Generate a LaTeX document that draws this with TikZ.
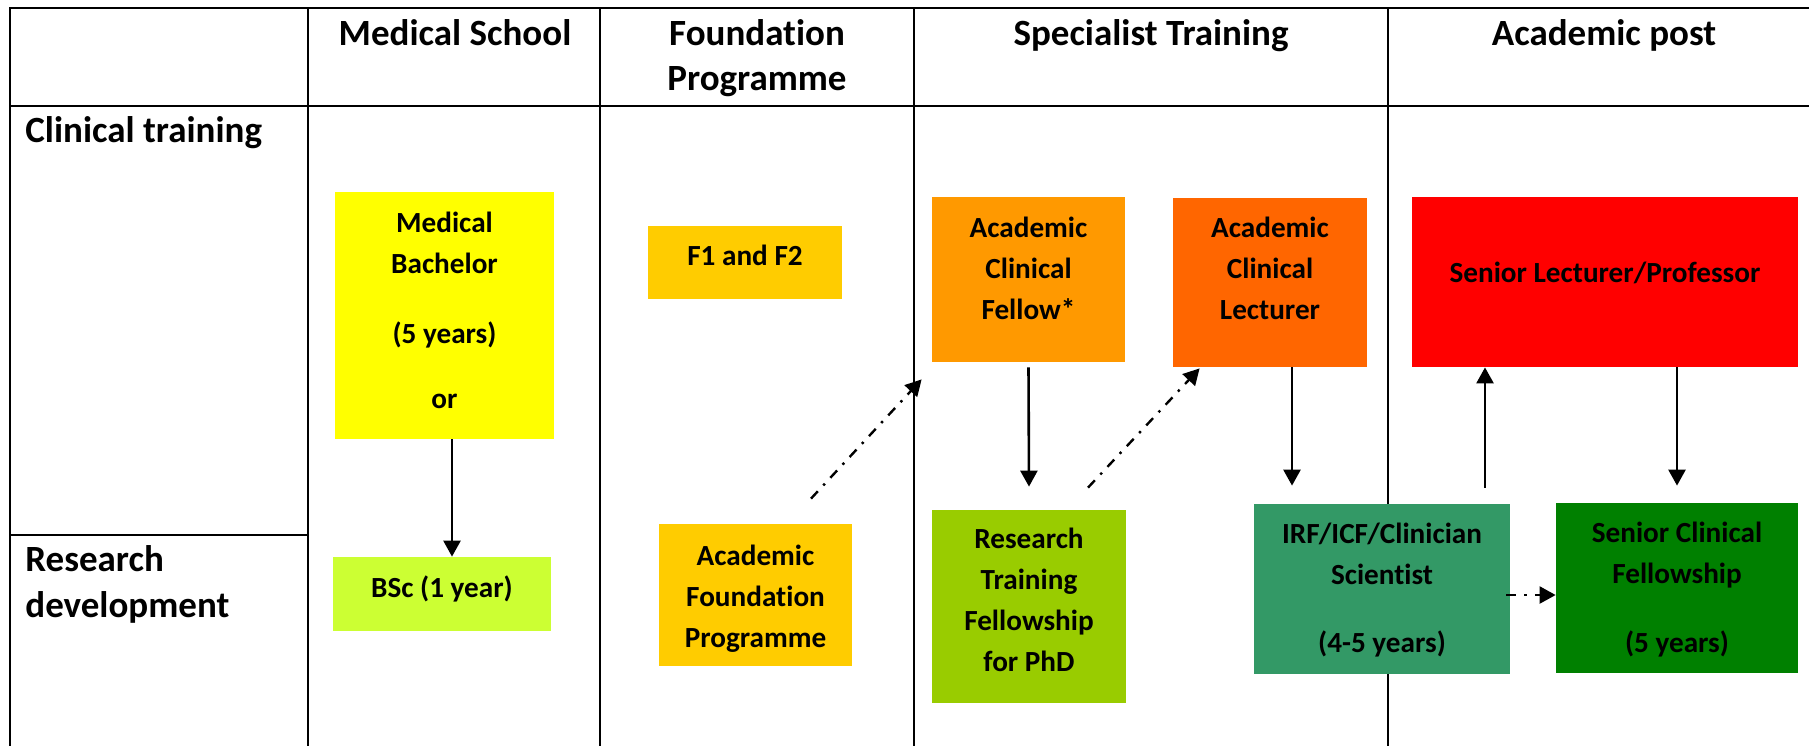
\documentclass[tikz,border=0pt]{standalone}
\usepackage{fontspec}
\setmainfont{Carlito}[Ligatures=NoCommon]
\usetikzlibrary{arrows.meta}
\definecolor{cYellow}{HTML}{FFFF00}
\definecolor{cLime}{HTML}{CCFF33}
\definecolor{cGold}{HTML}{FFCC00}
\definecolor{cOrange}{HTML}{FF9900}
\definecolor{cDarkOrange}{HTML}{FF6600}
\definecolor{cRed}{HTML}{FF0000}
\definecolor{cOlive}{HTML}{99CC00}
\definecolor{cSea}{HTML}{339966}
\definecolor{cGreen}{HTML}{008000}
\begin{document}
\begin{tikzpicture}[x=0.5pt,y=-0.5pt,
  grid/.style={line width=1.1pt},
  box/.style={rectangle, inner sep=0pt, draw=none},
  hdr/.style={font=\bfseries\fontsize{18.5}{22.5}\selectfont, inner sep=0pt},
  btxt/.style={font=\bfseries\fontsize{14.6}{20.5}\selectfont, inner sep=0pt, align=center, anchor=north},
  bline/.style={font=\bfseries\fontsize{14.6}{20.5}\selectfont, inner sep=0pt, anchor=base},
  arr/.style={line width=1.3pt, -{Triangle[width=8.5pt,length=8pt]}},
  dda/.style={line width=1.2pt, dash pattern=on 5pt off 4pt on 1.2pt off 4pt, -{Triangle[width=8.5pt,length=8pt]}}]
\useasboundingbox[fill=white] (0,0) rectangle (1809,746);

% table grid
\draw[grid] (1809,8) -- (10,8) -- (10,746);
\draw[grid] (10,106) -- (1809,106);
\foreach \cx in {308,600,914,1388} \draw[grid] (\cx,8) -- (\cx,746);
\draw[grid] (10,535) -- (308,535);

% headers
\node[hdr, anchor=base] (h1) at (455,45) {Medical School};
\node[hdr, align=center, anchor=north] (h2) at (757,13.5) {\strut Foundation\\\strut Programme};
\node[hdr, anchor=base] (h3) at (1151,45) {Specialist Training};
\node[hdr, anchor=base] (h4) at (1604,45) {Academic post};
\node[hdr, anchor=base west] (r1) at (25,142) {Clinical training};
\node[hdr, align=left, anchor=north west, font=\bfseries\fontsize{18.5}{23}\selectfont] (r2) at (25,538.8) {\strut Research\\\strut development};

% boxes
\node[box, fill=cYellow, minimum width=109.5pt, minimum height=123.5pt] (mb) at (444.5,315.5) {};
\node[box, fill=cLime, minimum width=109pt, minimum height=37pt] (bsc) at (442,594) {};
\node[box, fill=cGold, minimum width=97pt, minimum height=36.5pt] (f12) at (745,262.5) {};
\node[box, fill=cGold, minimum width=96.5pt, minimum height=71pt] (afp) at (755.5,595) {};
\node[box, fill=cOrange, minimum width=96.5pt, minimum height=82.5pt] (acf) at (1028.5,279.5) {};
\node[box, fill=cDarkOrange, minimum width=97pt, minimum height=84.5pt] (acl) at (1270,282.5) {};
\node[box, fill=cRed, minimum width=193pt, minimum height=85pt] (sl) at (1605,282) {};
\node[box, fill=cOlive, minimum width=97pt, minimum height=96.5pt] (rtf) at (1029,606.5) {};
\node[box, fill=cSea, minimum width=128pt, minimum height=85pt] (irf) at (1382,589) {};
\node[box, fill=cGreen, minimum width=121pt, minimum height=85pt] (scf) at (1677,588) {};

% box texts
\node[btxt] (mb-t) at (444.5,203.3) {\strut Medical\\\strut Bachelor\\[14.5pt]\strut (5 years)\\[12pt]\strut or};
\node[bline] (bsc-t) at (442,597) {BSc (1 year)};
\node[bline] (f12-t) at (745,265) {F1 and F2};
\node[btxt] (afp-t) at (755.5,536.3) {\strut Academic\\\strut Foundation\\\strut Programme};
\node[btxt] (acf-t) at (1028.5,208.3) {\strut Academic\\\strut Clinical\\\strut Fellow*};
\node[btxt] (acl-t) at (1270,208.3) {\strut Academic\\\strut Clinical\\\strut Lecturer};
\node[bline] (sl-t) at (1605,282) {Senior Lecturer/Professor};
\node[btxt] (rtf-t) at (1029,519.3) {\strut Research\\\strut Training\\\strut Fellowship\\\strut for PhD};
\node[btxt] (irf-t) at (1382,514.3) {\strut IRF/ICF/Clinician\\\strut Scientist\\[13.5pt]\strut (4-5 years)};
\node[btxt] (scf-t) at (1677,513.3) {\strut Senior Clinical\\\strut Fellowship\\[14pt]\strut (5 years)};

% connectors
\draw[arr] ([xshift=3.75pt]mb.south) -- ([xshift=5pt]bsc.north);
\draw[dda] ([shift={(27.75pt,12.5pt)}]afp.north) -- ([shift={(-5pt,-8.5pt)}]acf.south west);
\draw[arr] ([yshift=-2.5pt]acf.south) -- ([yshift=11.5pt]rtf.north);
\draw[dda] ([shift={(29.5pt,11pt)}]rtf.north) -- ([shift={(13.5pt,-0.5pt)}]acl.south west);
\draw[arr] ([xshift=11pt]acl.south) -- ([shift={(-45pt,9pt)}]irf.north);
\draw[arr] ([shift={(51.5pt,8pt)}]irf.north) -- ([xshift=-60pt]sl.south);
\draw[arr] ([xshift=36pt]sl.south) -- ([yshift=8.5pt]scf.north);
\draw[dda] ([shift={(-2pt,-3pt)}]irf.east) -- ([yshift=-3.5pt]scf.west);
\end{tikzpicture}
\end{document}
